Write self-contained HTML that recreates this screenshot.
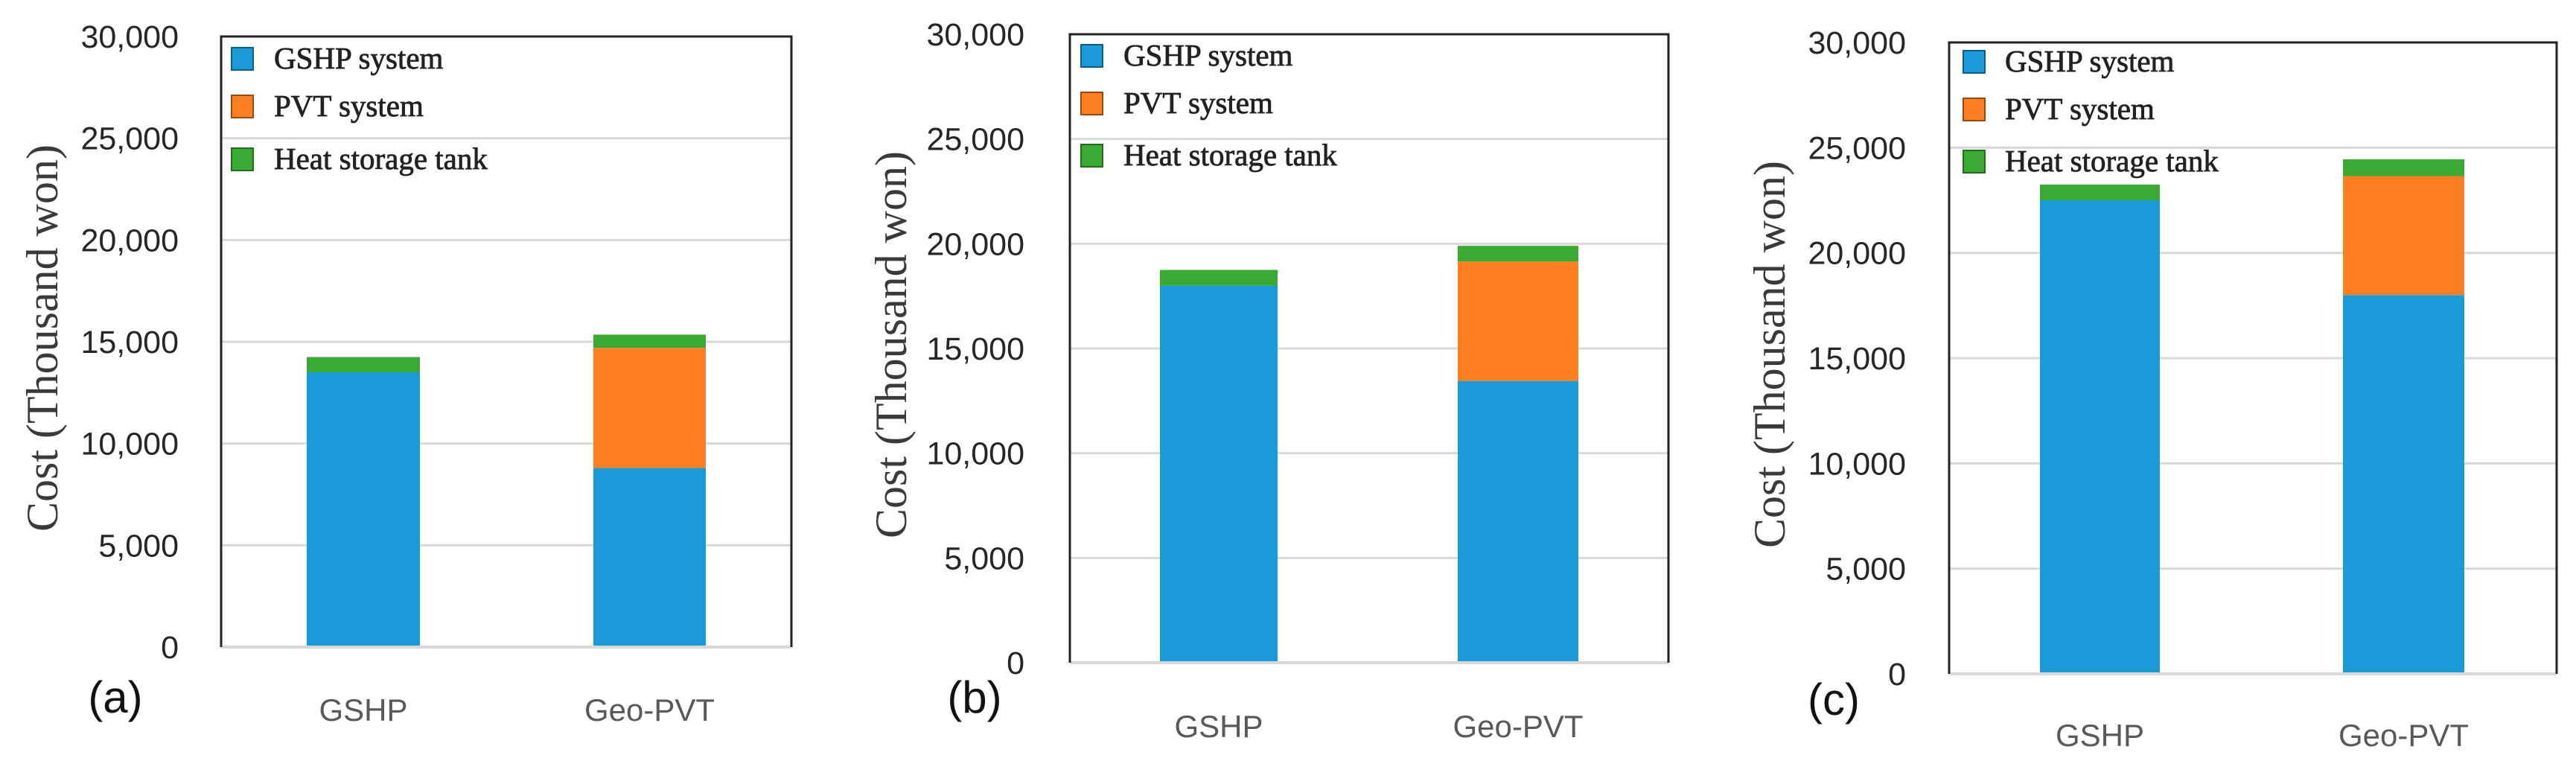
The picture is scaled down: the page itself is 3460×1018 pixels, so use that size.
<!DOCTYPE html>
<html><head><meta charset="utf-8"><style>
html,body{margin:0;padding:0;background:#fff;}
svg{display:block;}
</style></head><body>
<svg id="fig" width="3460" height="1018" viewBox="0 0 3460 1018" xmlns="http://www.w3.org/2000/svg"></svg>
<script>
// ---- data ----
const categories = ["GSHP", "Geo-PVT"];
const seriesNames = ["GSHP system", "PVT system", "Heat storage tank"];
const panelLabels = ["(a)", "(b)", "(c)"];
const yTicks = [0, 5000, 10000, 15000, 20000, 25000, 30000];
const yTickLabels = ["0", "5,000", "10,000", "15,000", "20,000", "25,000", "30,000"];
// per panel: values for [GSHP, Geo-PVT]
const gshpSystemA = [13500, 8800];
const pvtSystemA = [0, 5900];
const tankA = [750, 650];
const gshpSystemB = [18000, 13450];
const pvtSystemB = [0, 5700];
const tankB = [750, 750];
const gshpSystemC = [22500, 18000];
const pvtSystemC = [0, 5650];
const tankC = [750, 800];

const colors = ["#1a9bd7", "#fd7f23", "#3aaa35"];
const strokes = ["#0e5f86", "#9a4a10", "#226b1f"];
const NS = "http://www.w3.org/2000/svg";
const svg = document.getElementById("fig");
function mk(tag, attrs, parent) {
  const e = document.createElementNS(NS, tag);
  for (const k in attrs) e.setAttribute(k, attrs[k]);
  (parent || svg).appendChild(e);
  return e;
}
const panels = [
  {L:297,R:1063,T:49,B:869, bars:[[412,564],[797,948]], tickR:240, titleX:57, lsq:311, ltx:368, lrows:[79,143,214], xlY:968, lab:[155,957], series:[gshpSystemA,pvtSystemA,tankA]},
  {L:1437,R:2241,T:46,B:890, bars:[[1558,1716],[1958,2120]], tickR:1376, titleX:1197, lsq:1452, ltx:1509, lrows:[75,139,209], xlY:990, lab:[1309,957], series:[gshpSystemB,pvtSystemB,tankB]},
  {L:2618,R:3434,T:57,B:905, bars:[[2740,2901],[3147,3310]], tickR:2560, titleX:2377, lsq:2637, ltx:2693, lrows:[83,147,217], xlY:1002, lab:[2463,960], series:[gshpSystemC,pvtSystemC,tankC]}
];
panels.forEach((p, pi) => {
  const g = mk("g", {});
  
  
  const yScale = v => p.B - (v / 30000) * (p.B - p.T);
  yTicks.forEach((t, i) => {
    const y = yScale(t);
    if (i > 0 && i < yTicks.length - 1) {
      const gl = mk("line", {x1:p.L, x2:p.R, y1:y, y2:y, stroke:"#d9d9d9", "stroke-width":3}, g);
      
      
    }
    const tl = mk("text", {x:p.tickR, y:y+15, "text-anchor":"end", "font-family":"Liberation Sans, sans-serif", "font-size":43, fill:"#262626"}, g);
    tl.textContent = yTickLabels[i];
    
    
  });
  categories.forEach((c, ci) => {
    let acc = 0;
    p.series.forEach((s, si) => {
      const v = s[ci];
      if (v <= 0) return;
      const y0 = yScale(acc), y1 = yScale(acc + v);
      acc += v;
      const r = mk("rect", {x:p.bars[ci][0], y:y1, width:p.bars[ci][1]-p.bars[ci][0], height:y0-y1, fill:colors[si]}, g);
      
      
    });
    const xl = mk("text", {x:(p.bars[ci][0]+p.bars[ci][1])/2, y:p.xlY, "text-anchor":"middle", "font-family":"Liberation Sans, sans-serif", "font-size":42, fill:"#595959"}, g);
    xl.textContent = c;
    
    
  });
  const bl = mk("line", {x1:p.L, x2:p.R, y1:p.B, y2:p.B, stroke:"#d9d9d9", "stroke-width":4}, g);
  
  
  const fr = mk("path", {d:`M${p.L},${p.B} V${p.T} H${p.R} V${p.B}`, fill:"none", stroke:"#222", "stroke-width":3}, g);
  
  
  seriesNames.forEach((n, si) => {
    const cy = p.lrows[si];
    const sq = mk("rect", {x:p.lsq, y:cy-15, width:29, height:30, fill:colors[si], stroke:strokes[si], "stroke-width":2}, g);
    
    
    const lt = mk("text", {x:p.ltx, y:cy+13, "font-family":"Liberation Serif, serif", "font-size":41, fill:"#222", stroke:"#222", "stroke-width":0.8}, g);
    lt.textContent = n;
    
    
  });
  const cy = (p.T + p.B) / 2 - 5;
  const yt = mk("text", {x:p.titleX, y:cy, transform:`rotate(-90 ${p.titleX} ${cy})`, "text-anchor":"middle", "dominant-baseline":"central", "font-family":"Liberation Serif, serif", "font-size":60, fill:"#3a3a3a"}, g);
  yt.textContent = "Cost (Thousand won)";
  
  
  const pl = mk("text", {x:p.lab[0], y:p.lab[1], "text-anchor":"middle", "font-family":"Liberation Sans, sans-serif", "font-size":60, fill:"#111"}, g);
  pl.textContent = panelLabels[pi];
  
  
});
</script>
</body></html>
